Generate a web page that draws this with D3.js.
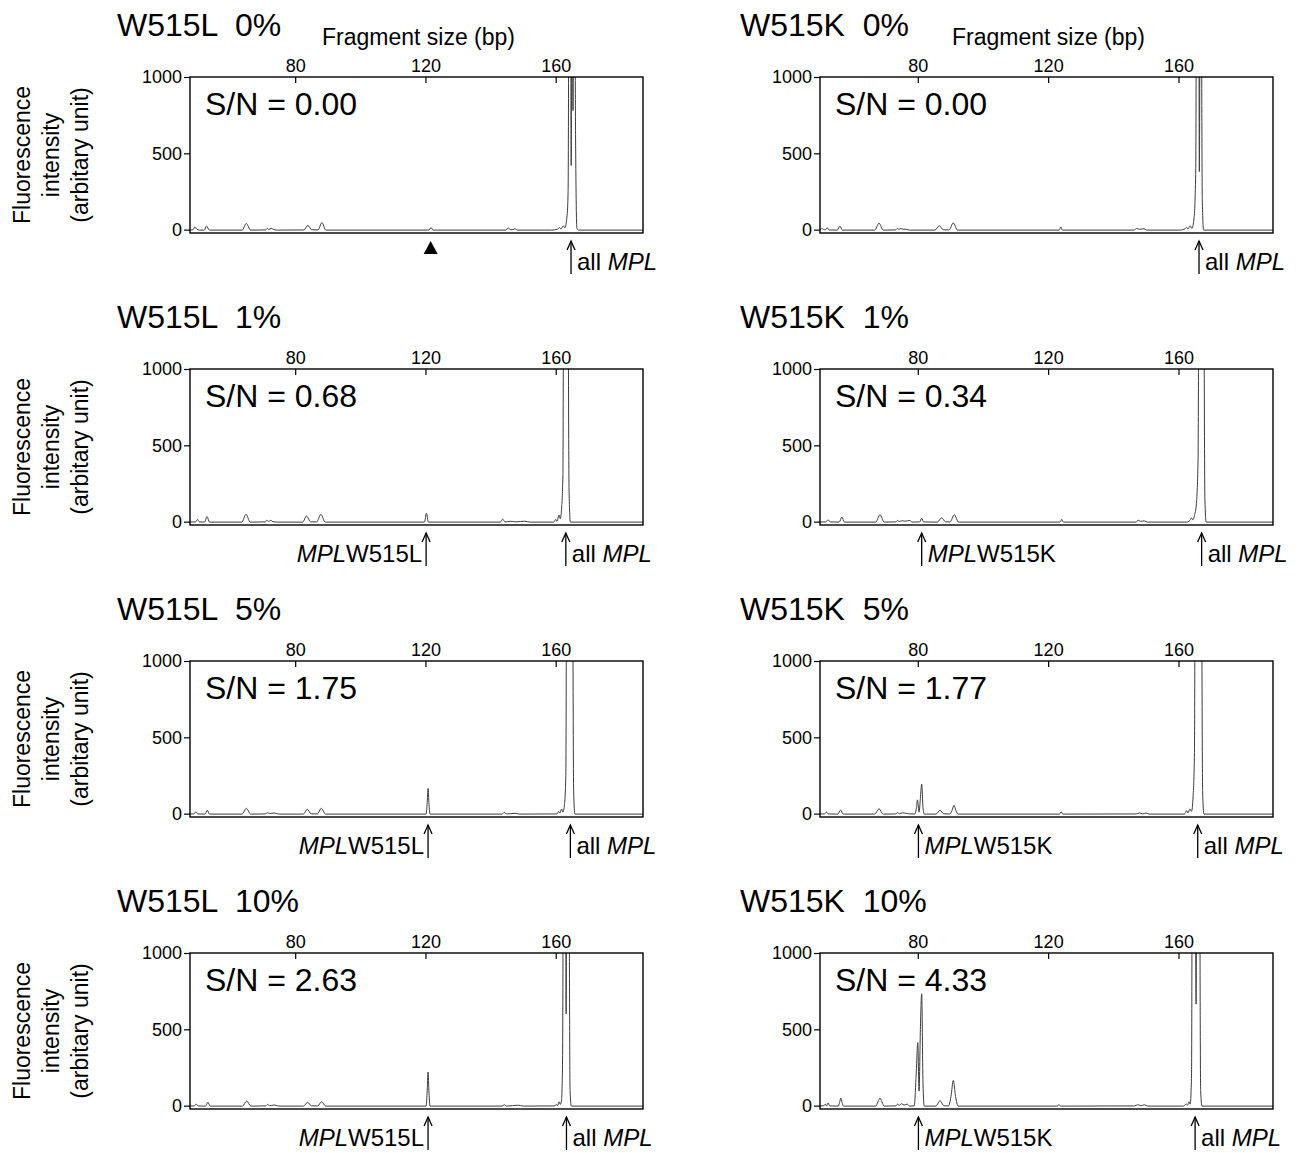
<!DOCTYPE html>
<html>
<head>
<meta charset="utf-8">
<script src="https://cdn.jsdelivr.net/npm/d3@7"></script>
<style>
  html, body { margin: 0; padding: 0; background: #fff; }
  text { font-family: "Liberation Sans", Arial, sans-serif; fill: #000; }
</style>
</head>
<body>
<svg id="chart" width="1299" height="1153"></svg>
<script>
// ---------------- DATA ----------------
const mutations = ["W515L", "W515K"];
const percents = ["0%", "1%", "5%", "10%"];
const snW515L = ["0.00", "0.68", "1.75", "2.63"];
const snW515K = ["0.00", "0.34", "1.77", "4.33"];
const xTicks = [80, 120, 160];
const yTicks = [0, 500, 1000];
const xAxisTitle = "Fragment size (bp)";
const yAxisLines = ["Fluorescence", "intensity", "(arbitary unit)"];

// peak positions (bp) marked by arrows
const allMplW515L = [164.7, 163.1, 164.5, 163.3];
const mutW515L = [121.6, 120.2, 120.8, 120.8];   // first one is the ▲ marker
const allMplW515K = [166.3, 167.1, 165.9, 165.1];
const mutW515K = [null, 81.2, 80.2, 80.2];

// traces: [fragment size (bp), fluorescence]
const traceW515L_0 = [[47.7,-2],[48.6,-1],[49.2,18],[49.8,3],[50.6,-3],[52.1,-3],[52.8,24],[53.6,-3],[63.7,-3],[65.0,40],[66.3,-3],[70.9,-2],[71.4,8],[71.9,0],[72.6,9],[73.3,1],[74.5,-3],[82.7,-2],[83.9,28],[85.1,-1],[87.0,-2],[88.2,46],[89.4,-3],[121.1,-3],[121.7,14],[122.3,-3],[144.7,-3],[145.4,12],[146.0,1],[146.9,0],[147.5,7],[148.1,-3],[158.8,-3],[160.6,3],[161.2,14],[161.6,3],[162.3,25],[162.8,12],[163.5,95],[163.8,250],[164.2,3000],[164.5,3500],[164.75,420],[165.0,3500],[165.3,780],[165.6,3200],[166.1,600],[166.5,10],[167.0,-3],[186.8,-3]];
const traceW515L_1 = [[47.7,-2],[49.4,-2],[50.0,15],[50.6,-2],[52.2,-3],[52.9,33],[53.7,-3],[63.6,-3],[64.9,48],[66.2,-3],[70.8,-2],[71.3,10],[71.8,1],[72.5,8],[73.2,-1],[74.5,-3],[82.3,-3],[83.5,37],[84.7,-1],[86.6,-2],[87.9,48],[89.2,-3],[119.7,-3],[120.3,55],[120.9,-3],[143.0,-3],[143.7,17],[144.4,-2],[146.0,2],[148.0,-1],[150.5,3],[152.0,-3],[159.4,-3],[160.0,15],[160.4,2],[161.0,44],[161.4,20],[161.8,88],[162.2,300],[162.6,3500],[163.1,4000],[163.6,3000],[164.1,200],[164.5,-3],[186.8,-3]];
const traceW515L_5 = [[47.7,-2],[48.9,-2],[49.5,12],[50.1,-2],[52.3,-3],[53.0,22],[53.7,-3],[63.7,-3],[65.0,35],[66.3,-3],[70.8,-2],[71.5,6],[72.2,1],[73.5,4],[75.0,-3],[82.5,-3],[83.7,28],[84.9,-1],[86.8,-2],[88.0,35],[89.3,-3],[120.2,-3],[120.5,60],[120.8,165],[121.1,60],[121.4,-3],[143.5,-3],[144.2,8],[144.9,-2],[147.5,2],[149.0,-3],[160.4,-2],[160.9,15],[161.3,3],[161.8,30],[162.2,10],[162.7,60],[163.1,250],[163.5,3000],[164.0,3800],[164.5,3500],[165.0,3000],[165.5,150],[165.9,-3],[186.8,-3]];
const traceW515L_10 = [[47.7,-2],[49.0,-2],[49.6,10],[50.2,-2],[52.5,-3],[53.2,22],[53.9,-3],[63.8,-3],[65.1,30],[66.4,-3],[70.9,-2],[71.5,8],[72.1,0],[73.5,4],[75.0,-3],[82.6,-3],[83.8,22],[85.0,-1],[86.9,-2],[88.1,25],[89.4,-3],[120.2,-3],[120.5,80],[120.8,220],[121.1,80],[121.4,-3],[143.5,-3],[144.2,6],[144.9,-3],[148.5,3],[150.0,-3],[159.5,-2],[160.2,6],[160.6,1],[161.0,25],[161.4,8],[161.8,40],[162.1,300],[162.5,3000],[162.9,3500],[163.2,600],[163.5,3500],[163.9,3000],[164.4,100],[164.8,-3],[186.8,-3]];

const traceW515K_0 = [[50.0,-2],[50.5,8],[51.0,3],[51.6,-2],[52.2,12],[52.8,-2],[55.3,-3],[56.1,24],[56.9,-3],[66.8,-3],[68.1,42],[69.4,-3],[73.2,-2],[73.7,8],[74.2,1],[74.8,7],[75.5,3],[76.5,2],[77.5,-3],[85.3,-3],[86.6,26],[87.8,-1],[89.6,-2],[90.9,44],[92.2,-3],[123.4,-3],[123.9,18],[124.4,-3],[146.4,-3],[147.2,8],[148.0,2],[149.4,6],[150.2,-3],[160.5,-3],[162.0,5],[162.5,15],[162.9,4],[163.6,25],[164.1,8],[164.8,80],[165.3,400],[165.7,3500],[166.1,3500],[166.4,380],[166.8,3000],[167.3,200],[167.7,-3],[189.0,-3]];
const traceW515K_1 = [[50.0,-2],[51.8,-2],[52.5,12],[53.1,-2],[55.9,-3],[56.7,30],[57.5,-3],[67.1,-3],[68.4,45],[69.7,-3],[73.3,-2],[73.8,8],[74.3,0],[75.2,6],[76.2,3],[77.6,8],[78.2,-3],[80.6,-2],[81.2,22],[81.8,-2],[86.0,-3],[87.3,25],[88.5,-1],[89.9,-2],[91.2,45],[92.5,-3],[123.7,-3],[124.2,15],[124.7,-3],[147.0,-3],[147.6,10],[148.3,2],[149.5,5],[150.5,-3],[162.5,-3],[163.5,8],[164.0,25],[164.4,12],[164.9,40],[165.5,120],[166.0,400],[166.5,3500],[167.1,4000],[167.6,3000],[168.1,150],[168.5,-3],[189.0,-3]];
const traceW515K_5 = [[50.0,-2],[51.4,-2],[52.0,10],[52.6,-2],[55.5,-3],[56.3,24],[57.1,-3],[66.8,-3],[68.1,32],[69.4,-3],[73.2,-2],[73.8,6],[74.4,0],[75.3,5],[76.5,2],[77.6,-2],[79.1,-2],[79.6,40],[79.9,90],[80.4,10],[80.8,100],[81.2,193],[81.6,40],[82.0,-3],[85.6,-3],[86.8,22],[88.0,-1],[89.8,-2],[90.5,20],[91.1,55],[91.7,20],[92.4,-3],[123.5,-3],[124.0,13],[124.5,-3],[147.0,-2],[148.0,5],[149.0,-2],[150.0,4],[151.0,-3],[161.8,-3],[162.5,20],[162.9,5],[163.5,30],[164.0,15],[164.5,120],[164.9,400],[165.3,3500],[166.0,4000],[166.8,3500],[167.4,150],[167.8,-3],[189.0,-3]];
const traceW515K_10 = [[50.0,-2],[51.2,0],[51.6,10],[52.0,-2],[52.5,18],[53.0,-2],[55.6,-3],[56.0,20],[56.4,50],[56.8,20],[57.2,-3],[67.1,-3],[67.8,25],[68.4,50],[69.0,25],[69.7,-3],[73.2,-2],[73.8,10],[74.3,2],[75.0,12],[75.8,4],[76.8,10],[77.5,-3],[78.9,-2],[79.5,200],[80.0,413],[80.4,95],[80.8,500],[81.2,733],[81.6,150],[82.0,-3],[85.6,-3],[86.8,33],[88.0,-1],[89.4,-2],[90.2,60],[90.9,165],[91.6,60],[92.4,-3],[122.8,-3],[123.3,7],[123.8,-3],[146.5,-2],[147.5,6],[148.5,-1],[149.5,6],[150.5,-3],[161.5,-3],[162.4,10],[162.8,3],[163.2,25],[163.6,10],[164.0,200],[164.4,3500],[164.9,3800],[165.4,665],[165.8,3500],[166.3,3000],[166.8,100],[167.2,-3],[189.0,-3]];

const tracesW515L = [traceW515L_0, traceW515L_1, traceW515L_5, traceW515L_10];
const tracesW515K = [traceW515K_0, traceW515K_1, traceW515K_5, traceW515K_10];

// ---------------- LAYOUT ----------------
const colLeft = [190, 820];
const colTitleX = [117, 740];
const xDomains = [[47.7, 186.8], [50.0, 189.0]];
const yDomain = [-22, 1000];
const rowTop = [77, 369, 661, 953];
const plotW = 453, plotH = 156;
const FONT = '"Liberation Sans", Arial, sans-serif';

const svg = d3.select("#chart");
svg.append("rect").attr("width", 1299).attr("height", 1153).attr("fill", "#fff");

const columns = [
  { name: mutations[0], sn: snW515L, traces: tracesW515L, allMpl: allMplW515L, mut: mutW515L, mutLeft: true },
  { name: mutations[1], sn: snW515K, traces: tracesW515K, allMpl: allMplW515K, mut: mutW515K, mutLeft: false }
];

columns.forEach((col, ci) => {
  rowTop.forEach((top, ri) => {
    const left = colLeft[ci];
    const bottom = top + plotH;
    const x = d3.scaleLinear().domain(xDomains[ci]).range([left, left + plotW]);
    const y = d3.scaleLinear().domain(yDomain).range([bottom, top]);
    const g = svg.append("g");

    // title
    g.append("text")
      .attr("x", colTitleX[ci]).attr("y", top - 41)
      .attr("font-size", 32).style("white-space", "pre")
      .text(col.name + "  " + percents[ri]);

    if (ri === 0) {
      g.append("text")
        .attr("x", left + plotW / 2 + 2).attr("y", top - 32)
        .attr("text-anchor", "middle").attr("font-size", 23)
        .text(xAxisTitle);
    }

    // clipped trace
    const clipId = `clip-${ci}-${ri}`;
    svg.append("clipPath").attr("id", clipId)
      .append("rect").attr("x", left).attr("y", top).attr("width", plotW).attr("height", plotH);
    const line = d3.line().x(d => x(d[0])).y(d => y(d[1])).curve(d3.curveMonotoneX);
    g.append("path")
      .datum(col.traces[ri])
      .attr("clip-path", `url(#${clipId})`)
      .attr("fill", "none").attr("stroke", "#3c3c3c").attr("stroke-width", 1)
      .attr("d", line);

    // frame
    g.append("rect").attr("x", left).attr("y", top).attr("width", plotW).attr("height", plotH)
      .attr("fill", "none").attr("stroke", "#000").attr("stroke-width", 1.4);

    // top axis (ticks inward)
    const xAxis = d3.axisTop(x).tickValues(xTicks).tickSize(-6).tickPadding(5).tickFormat(d3.format("d"));
    const gx = g.append("g").attr("transform", `translate(0,${top})`).call(xAxis);
    gx.select(".domain").remove();
    gx.selectAll("line").attr("stroke", "#000").attr("stroke-width", 1.2);
    gx.selectAll("text").attr("font-size", 18).attr("font-family", FONT).attr("fill", "#000");

    // left axis
    const yAxis = d3.axisLeft(y).tickValues(yTicks).tickSize(6).tickPadding(2).tickFormat(d3.format("d"));
    const gy = g.append("g").attr("transform", `translate(${left},0)`).call(yAxis);
    gy.select(".domain").remove();
    gy.selectAll("line").attr("stroke", "#000").attr("stroke-width", 1.2);
    gy.selectAll("text").attr("font-size", 18).attr("font-family", FONT).attr("fill", "#000");

    // S/N
    g.append("text")
      .attr("x", left + 15).attr("y", top + 38)
      .attr("font-size", 32)
      .text("S/N = " + col.sn[ri]);

    // y axis title (left column only)
    if (ci === 0) {
      const cy = top + 78;
      const lx = [22, 51, 80];
      yAxisLines.forEach((t, i) => {
        g.append("text")
          .attr("transform", `translate(${lx[i]},${cy}) rotate(-90)`)
          .attr("text-anchor", "middle").attr("dominant-baseline", "central")
          .attr("font-size", 23).text(t);
      });
    }

    // arrows
    const drawArrow = (px) => {
      const a0 = bottom + 8, a1 = bottom + 41;
      g.append("line").attr("x1", px).attr("x2", px).attr("y1", a0).attr("y2", a1)
        .attr("stroke", "#000").attr("stroke-width", 1.3);
      g.append("path")
        .attr("d", `M${px - 4},${a0 + 9} L${px},${a0} L${px + 4},${a0 + 9}`)
        .attr("fill", "none").attr("stroke", "#000").attr("stroke-width", 1.3);
    };

    const labelY = bottom + 37;
    const pa = x(col.allMpl[ri]);
    drawArrow(pa);
    const tAll = g.append("text").attr("x", pa + 6).attr("y", labelY).attr("font-size", 24);
    tAll.append("tspan").text("all ");
    tAll.append("tspan").attr("font-style", "italic").text("MPL");

    const m = col.mut[ri];
    if (m !== null) {
      const pm = x(m);
      if (ci === 0 && ri === 0) {
        g.append("path")
          .attr("d", `M${pm - 7},${bottom + 21} L${pm + 7},${bottom + 21} L${pm},${bottom + 8} Z`)
          .attr("fill", "#000");
      } else {
        drawArrow(pm);
        const tm = g.append("text").attr("y", labelY).attr("font-size", 24);
        if (col.mutLeft) {
          tm.attr("x", pm - 4).attr("text-anchor", "end");
        } else {
          tm.attr("x", pm + 6);
        }
        tm.append("tspan").attr("font-style", "italic").text("MPL");
        tm.append("tspan").text(col.name);
      }
    }
  });
});
</script>
</body>
</html>
